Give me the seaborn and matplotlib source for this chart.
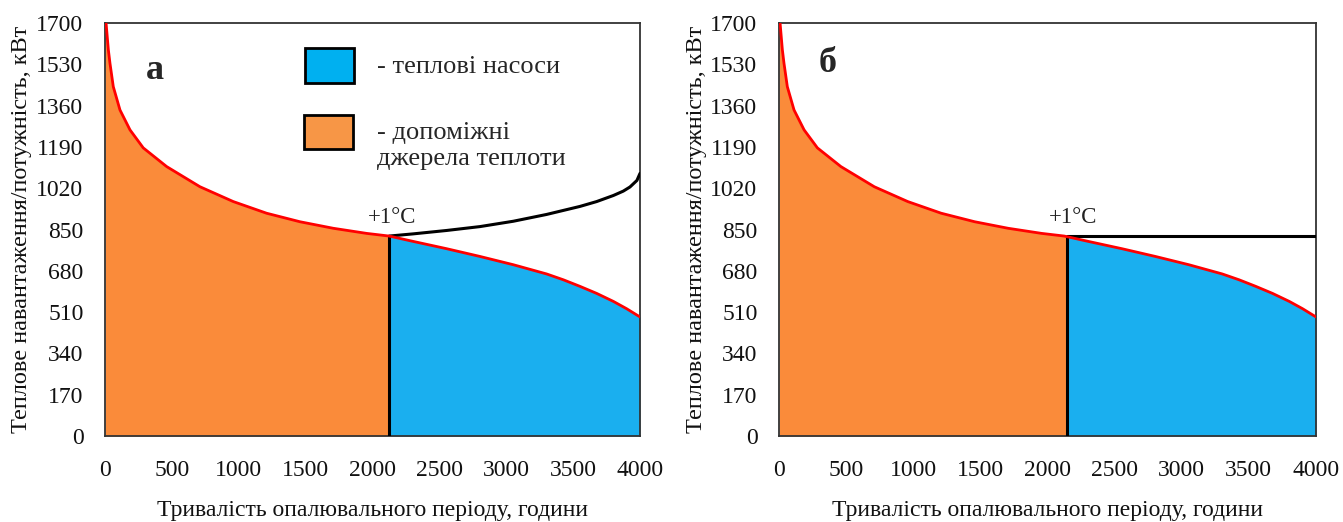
import numpy as np
import pandas as pd
import matplotlib
matplotlib.use("Agg")
import matplotlib.pyplot as plt
from matplotlib.patches import Rectangle
import seaborn as sns

# ---- data ----
hours = [8, 25, 37, 62, 112, 187, 286, 461, 710, 959, 1208, 1457, 1707, 1956,
         2125, 2304, 2554, 2804, 3053, 3302, 3427, 3551, 3676, 3801, 3900, 4000]
load = [1700, 1590, 1535, 1438, 1342, 1260, 1186, 1109, 1026, 965, 917, 882, 855, 834,
        823, 801, 771, 739, 705, 667, 643, 616, 587, 554, 524, 490]

hp_hours_a = [2125, 2304, 2554, 2804, 3053, 3302, 3551, 3676, 3801, 3875, 3925, 3977, 4000]
hp_power_a = [823, 832, 846, 862, 884, 912, 945, 965, 990, 1008, 1025, 1052, 1081]

split_a = 2125
split_b = 2145
hp_power_b = 822

x_ticks = [0, 500, 1000, 1500, 2000, 2500, 3000, 3500, 4000]
y_ticks = [0, 170, 340, 510, 680, 850, 1020, 1190, 1360, 1530, 1700]

panel_letters = ["а", "б"]
legend_labels = ["- теплові насоси", "- допоміжні\nджерела теплоти"]
xlabel = "Тривалість опалювального періоду, години"
ylabel = "Теплове навантаження/потужність, кВт"
point_label = "+1°C"

ORANGE = "#FA8B3A"
BLUE = "#1AAFEF"
RED = "#FF0000"

sns.set_theme(style="white")
plt.rcParams["font.family"] = ["Liberation Serif", "DejaVu Serif"]

df = pd.DataFrame({"hours": hours, "load": load})

fig = plt.figure(figsize=(13.43, 5.22), dpi=100)
ax_a = fig.add_axes([105 / 1343, 1 - 436 / 522, 535 / 1343, 413 / 522])
ax_b = fig.add_axes([779 / 1343, 1 - 436 / 522, 537 / 1343, 413 / 522])

h = np.array(hours, dtype=float)
l = np.array(load, dtype=float)


def draw_panel(ax, split, letter, lx, ly, txt_x):
    hh = np.concatenate([[0.0], h])
    ll = np.concatenate([[l[0]], l])
    ls = np.interp(split, hh, ll)
    left_h = np.concatenate([hh[hh < split], [split]])
    left_l = np.concatenate([ll[hh < split], [ls]])
    right_h = np.concatenate([[split], hh[hh > split]])
    right_l = np.concatenate([[ls], ll[hh > split]])
    ax.fill_between(left_h, 0, left_l, color=ORANGE, lw=0, zorder=1)
    ax.fill_between(right_h, 0, right_l, color=BLUE, lw=0, zorder=1)
    sns.lineplot(data=df, x="hours", y="load", ax=ax, color=RED, lw=2.0,
                 sort=False, estimator=None, zorder=4)
    ax.plot([split, split], [0, ls], color="black", lw=2.2, zorder=3)
    ax.text(txt_x, 901, point_label, fontsize=16.5, ha="center", va="center",
            color="#222222")
    ax.text(lx, ly, letter, transform=ax.transAxes, fontsize=26,
            fontweight="bold", ha="center", va="center")
    return ls


draw_panel(ax_a, split_a, panel_letters[0], 0.093, 0.886, 2146)
ax_a.plot(hp_hours_a, hp_power_a, color="black", lw=2.2, zorder=3)

draw_panel(ax_b, split_b, panel_letters[1], 0.091, 0.903, 2190)
ax_b.plot([split_b, 4000], [hp_power_b, hp_power_b], color="black", lw=2.2, zorder=3)

# legend drawn as boxes + text in panel a
ax_a.add_patch(Rectangle((0.374, 0.855), 0.0916, 0.084, transform=ax_a.transAxes,
                         facecolor="#00B0F0", edgecolor="black", lw=2.0, zorder=5))
ax_a.add_patch(Rectangle((0.372, 0.695), 0.0916, 0.082, transform=ax_a.transAxes,
                         facecolor="#F79646", edgecolor="black", lw=2.0, zorder=5))
ax_a.text(0.508, 0.893, legend_labels[0], transform=ax_a.transAxes, fontsize=19,
          ha="left", va="center")
ax_a.text(0.508, 0.703, legend_labels[1], transform=ax_a.transAxes, fontsize=19,
          ha="left", va="center", linespacing=1.25)

for ax, ylx in ((ax_a, -0.136), (ax_b, -0.134)):
    ax.set_xlim(0, 4000)
    ax.set_ylim(0, 1700)
    ax.set_xticks(x_ticks)
    ax.set_yticks(y_ticks)
    ax.tick_params(axis="both", direction="inout", length=11, width=1.2,
                   color="black", labelsize=17, labelcolor="#111111")
    ax.tick_params(axis="x", pad=12)
    ax.tick_params(axis="y", pad=10)
    for s in ax.spines.values():
        s.set_visible(True)
        s.set_color("#333333")
        s.set_linewidth(1.3)
    ax.set_xlabel(xlabel, fontsize=17, color="#111111")
    ax.set_ylabel(ylabel, fontsize=17.5, color="#111111")
    ax.xaxis.set_label_coords(0.5, -0.155)
    ax.yaxis.set_label_coords(ylx, 0.5)
    ax.set_facecolor("white")

fig.savefig("out.png", dpi=100, facecolor="white")
